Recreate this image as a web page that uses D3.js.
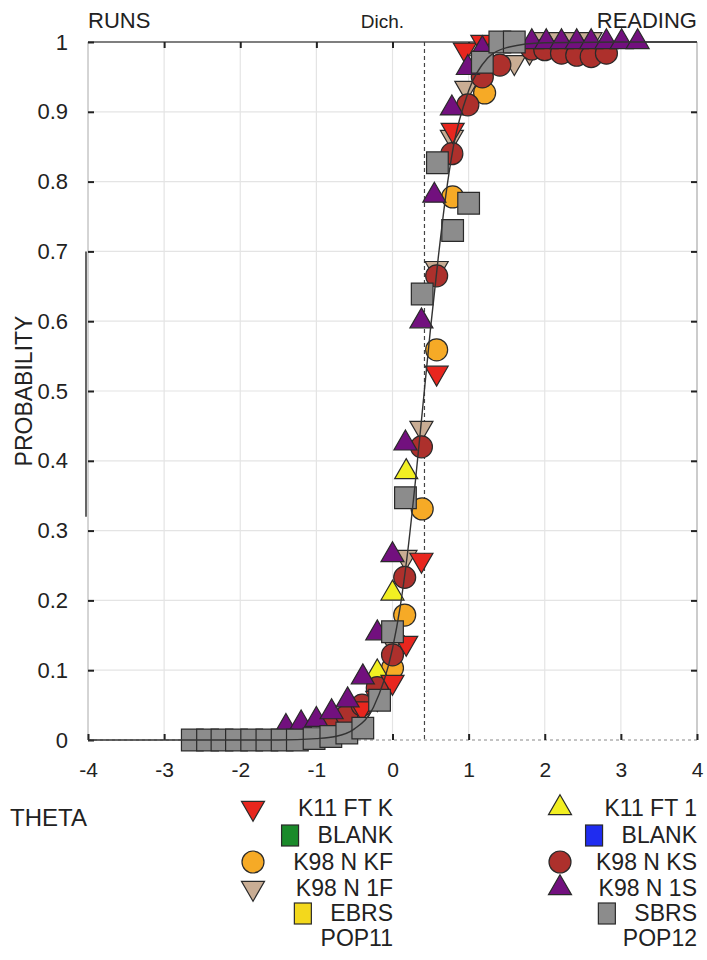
<!DOCTYPE html>
<html>
<head>
<meta charset="utf-8">
<script src="https://cdn.jsdelivr.net/npm/d3@7"></script>
<style>
  body { margin: 0; background: #fff; }
  svg text { font-family: "Liberation Sans", Arial, sans-serif; fill: #222; }
</style>
</head>
<body>
<svg id="chart" width="707" height="960"></svg>
<script>
// ---- data ----
const xTicks = [-4, -3, -2, -1, 0, 1, 2, 3, 4];
const yTicks = [0, 0.1, 0.2, 0.3, 0.4, 0.5, 0.6, 0.7, 0.8, 0.9, 1];
const dichTheta = 0.42;

// fitted curve, sampled from the figure
const curveTheta = [-4, -3, -2, -1.5, -1, -0.75, -0.5, -0.25, 0, 0.1, 0.2, 0.3, 0.4, 0.5, 0.6, 0.7, 0.8, 1.0, 1.25, 1.5, 2, 3, 4];
const curveP = [0, 0, 0, 0, 0.002, 0.005, 0.016, 0.047, 0.131, 0.19, 0.27, 0.37, 0.48, 0.59, 0.69, 0.78, 0.85, 0.93, 0.977, 0.992, 0.999, 1, 1];

const k11ftkTheta = [-0.4, -0.2, 0.0, 0.18, 0.38, 0.58, 0.79, 0.95, 1.18];
const k11ftkP = [0.045, 0.06, 0.083, 0.139, 0.258, 0.526, 0.874, 0.989, 1.0];

const k11ft1Theta = [-0.2, 0.0, 0.18];
const k11ft1P = [0.097, 0.21, 0.384];

const k98kfTheta = [0.0, 0.16, 0.39, 0.58, 0.79, 1.21];
const k98kfP = [0.103, 0.179, 0.331, 0.559, 0.778, 0.927];

const k981fTheta = [-0.8, -0.6, -0.39, -0.2, 0.0, 0.17, 0.38, 0.58, 0.78, 0.97, 1.6, 1.8, 2.0, 2.2, 2.4, 2.6];
const k981fP = [0.015, 0.025, 0.039, 0.076, 0.14, 0.262, 0.447, 0.676, 0.864, 0.934, 0.971, 0.986, 1.004, 1.004, 1.004, 1.004];

const k98ksTheta = [-0.8, -0.6, -0.4, -0.2, 0.0, 0.16, 0.38, 0.58, 0.78, 0.99, 1.18, 1.41, 1.83, 2.0, 2.22, 2.42, 2.61, 2.81];
const k98ksP = [0.02, 0.035, 0.05, 0.075, 0.122, 0.233, 0.42, 0.665, 0.84, 0.91, 0.95, 0.967, 0.99, 0.989, 0.984, 0.981, 0.979, 0.984];

const k981sTheta = [-1.4, -1.2, -1.0, -0.8, -0.59, -0.39, -0.2, 0.0, 0.17, 0.38, 0.55, 0.78, 0.99, 1.18, 1.83, 2.02, 2.22, 2.42, 2.61, 2.81, 3.01, 3.22];
const k981sP = [0.019, 0.024, 0.029, 0.04, 0.057, 0.09, 0.153, 0.265, 0.425, 0.60, 0.78, 0.905, 0.963, 0.99, 1, 1, 1, 1, 1, 1, 1, 1];

const sbrsTheta = [-2.63, -2.43, -2.24, -2.05, -1.85, -1.65, -1.45, -1.25, -1.03, -0.81, -0.6, -0.39, -0.17, 0.0, 0.17, 0.39, 0.59, 0.79, 1.0, 1.18, 1.41, 1.6];
const sbrsP = [0, 0, 0, 0, 0, 0, 0, 0, 0.002, 0.005, 0.01, 0.017, 0.057, 0.155, 0.347, 0.639, 0.827, 0.73, 0.769, 0.971, 1.0, 1.0];

const legendLeft = ['K11 FT K', 'BLANK', 'K98 N KF', 'K98 N 1F', 'EBRS'];
const legendRight = ['K11 FT 1', 'BLANK', 'K98 N KS', 'K98 N 1S', 'SBRS'];

// ---- layout ----
const svg = d3.select('#chart');
const x = d3.scaleLinear().domain([-4, 4]).range([88, 697]);
const y = d3.scaleLinear().domain([0, 1]).range([740, 42]);

const cols = {
	k11ftk: '#e8261e', blankL: '#1a8a2a', kf: '#f6aa26', f1: '#c9ad94', ebrs: '#f3d81c',
	k11ft1: '#f2ef22', blankR: '#1f2cf0', ks: '#ad302c', s1: '#72107e', sbrs: '#8c8c8c'
};

// grid
svg.append('g').selectAll('line').data(xTicks.slice(1, -1)).join('line')
	.attr('x1', d => x(d)).attr('x2', d => x(d)).attr('y1', y(1)).attr('y2', y(0))
	.attr('stroke', '#e4e4e4').attr('stroke-width', 1.2);
svg.append('g').selectAll('line').data(yTicks.slice(1, -1)).join('line')
	.attr('x1', x(-4)).attr('x2', x(4)).attr('y1', d => y(d)).attr('y2', d => y(d))
	.attr('stroke', '#e4e4e4').attr('stroke-width', 1.2);

// box
svg.append('line').attr('x1', x(-4)).attr('x2', x(4)).attr('y1', y(1)).attr('y2', y(1))
	.attr('stroke', '#555').attr('stroke-width', 1.5);
svg.append('line').attr('x1', x(4)).attr('x2', x(4)).attr('y1', y(1)).attr('y2', y(0))
	.attr('stroke', '#999').attr('stroke-width', 1);
svg.append('line').attr('x1', x(-4)).attr('x2', x(-4)).attr('y1', y(1)).attr('y2', y(0))
	.attr('stroke', '#aaa').attr('stroke-width', 1);
svg.append('line').attr('x1', x(-4) - 2).attr('x2', x(-4) - 2).attr('y1', y(0.7)).attr('y2', y(0.32))
	.attr('stroke', '#333').attr('stroke-width', 1.5);
svg.append('line').attr('x1', x(-4)).attr('x2', x(4)).attr('y1', y(0)).attr('y2', y(0))
	.attr('stroke', '#888').attr('stroke-width', 1).attr('stroke-dasharray', '3,3');

// axes (ticks inward)
svg.append('g').attr('transform', `translate(0,${y(0)})`)
	.call(d3.axisBottom(x).tickValues(xTicks).tickSize(-6).tickPadding(22).tickFormat(d => String(d)))
	.call(g => g.select('.domain').remove())
	.call(g => g.selectAll('.tick line').attr('stroke', '#222').attr('stroke-width', 2))
	.call(g => g.selectAll('text').attr('font-size', 21).attr('fill', '#222'));
svg.append('g').attr('transform', `translate(0,${y(1)})`)
	.call(d3.axisTop(x).tickValues(xTicks.slice(1, -1)).tickSize(-6).tickFormat(''))
	.call(g => g.select('.domain').remove())
	.call(g => g.selectAll('.tick line').attr('stroke', '#222').attr('stroke-width', 2));
svg.append('g').attr('transform', `translate(${x(-4)},0)`)
	.call(d3.axisLeft(y).tickValues(yTicks).tickSize(-6).tickPadding(20).tickFormat(d => d === 0 || d === 1 ? String(d) : d3.format('.1f')(d)))
	.call(g => g.select('.domain').remove())
	.call(g => g.selectAll('.tick line').attr('stroke', '#222').attr('stroke-width', 2))
	.call(g => g.selectAll('text').attr('font-size', 22).attr('fill', '#222'));
svg.append('g').attr('transform', `translate(${x(4)},0)`)
	.call(d3.axisRight(y).tickValues(yTicks.slice(1, -1)).tickSize(-6).tickFormat(''))
	.call(g => g.select('.domain').remove())
	.call(g => g.selectAll('.tick line').attr('stroke', '#222').attr('stroke-width', 2));

// dichotomous threshold
svg.append('line').attr('x1', x(dichTheta)).attr('x2', x(dichTheta)).attr('y1', y(1)).attr('y2', y(0))
	.attr('stroke', '#444').attr('stroke-width', 1.2).attr('stroke-dasharray', '4,3');

// markers
const triUp = d3.symbol().type(d3.symbolTriangle).size(230);
const circ = d3.symbol().type(d3.symbolCircle).size(380);
const sq = d3.symbol().type(d3.symbolSquare).size(470);

function drawSeries(thetas, ps, sym, fill, rot) {
	svg.append('g').selectAll('path').data(d3.zip(thetas, ps)).join('path')
		.attr('d', sym)
		.attr('transform', d => `translate(${x(d[0])},${y(d[1])}) rotate(${rot})`)
		.attr('fill', fill).attr('stroke', '#2a2a2a').attr('stroke-width', 1.2);
}

drawSeries(k981fTheta, k981fP, triUp, cols.f1, 180);
drawSeries(k98kfTheta, k98kfP, circ, cols.kf, 0);
drawSeries(k11ft1Theta, k11ft1P, triUp, cols.k11ft1, 0);
drawSeries(k98ksTheta, k98ksP, circ, cols.ks, 0);
drawSeries(k11ftkTheta, k11ftkP, triUp, cols.k11ftk, 180);
drawSeries(k981sTheta, k981sP, triUp, cols.s1, 0);
drawSeries(sbrsTheta, sbrsP, sq, cols.sbrs, 0);

// fitted curve on top
svg.append('path')
	.datum(d3.zip(curveTheta, curveP))
	.attr('d', d3.line().x(d => x(d[0])).y(d => y(d[1])).curve(d3.curveMonotoneX))
	.attr('fill', 'none').attr('stroke', '#333').attr('stroke-width', 1.4);

// titles
svg.append('text').attr('x', 88).attr('y', 28).attr('font-size', 22).text('RUNS');
svg.append('text').attr('x', x(dichTheta) - 42).attr('y', 28).attr('font-size', 19).attr('text-anchor', 'middle').text('Dich.');
svg.append('text').attr('x', 697).attr('y', 28).attr('font-size', 22).attr('text-anchor', 'end').text('READING');
svg.append('text').attr('transform', `translate(32,${y(0.5)}) rotate(-90)`).attr('font-size', 23)
	.attr('text-anchor', 'middle').text('PROBABILITY');
svg.append('text').attr('x', 10).attr('y', 826).attr('font-size', 24).text('THETA');

// legend
const rowY = [808, 835, 862, 888, 913];
const leftSyms = [
	{ sym: triUp, fill: cols.k11ftk, rot: 180 }, { sq: true, fill: cols.blankL },
	{ sym: circ, fill: cols.kf, rot: 0 }, { sym: triUp, fill: cols.f1, rot: 180 },
	{ sq: true, fill: cols.ebrs }
];
const rightSyms = [
	{ sym: triUp, fill: cols.k11ft1, rot: 0 }, { sq: true, fill: cols.blankR },
	{ sym: circ, fill: cols.ks, rot: 0 }, { sym: triUp, fill: cols.s1, rot: 0 },
	{ sq: true, fill: cols.sbrs }
];

function drawLegend(labels, syms, textRight, markX, popLabel) {
	const g = svg.append('g');
	labels.forEach((lab, i) => {
		const t = g.append('text').attr('x', textRight).attr('y', rowY[i] + 8)
			.attr('font-size', 23).attr('text-anchor', 'end').text(lab);
		const s = syms[i];
		if (s.sq) {
			const left = textRight - t.node().getComputedTextLength();
			g.append('rect').attr('x', left - 36).attr('y', rowY[i] - 10).attr('width', 17).attr('height', 21)
				.attr('fill', s.fill).attr('stroke', '#2a2a2a').attr('stroke-width', 1.2);
		} else {
			g.append('path').attr('d', s.sym)
				.attr('transform', `translate(${markX},${rowY[i]}) rotate(${s.rot})`)
				.attr('fill', s.fill).attr('stroke', '#2a2a2a').attr('stroke-width', 1.2);
		}
	});
	g.append('text').attr('x', textRight).attr('y', 946).attr('font-size', 23)
		.attr('text-anchor', 'end').text(popLabel);
}
drawLegend(legendLeft, leftSyms, 393, 253, 'POP11');
drawLegend(legendRight, rightSyms, 697, 560, 'POP12');
</script>
</body>
</html>
